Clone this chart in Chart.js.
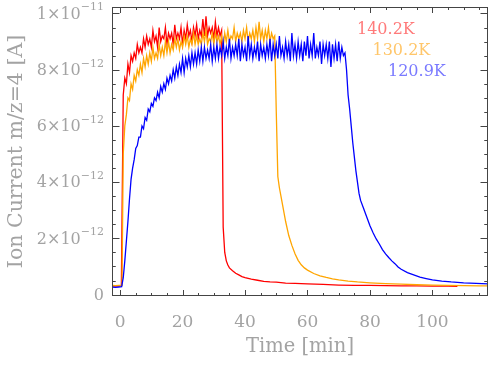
<!DOCTYPE html>
<html>
<head>
<meta charset="utf-8">
<script src="https://cdn.jsdelivr.net/npm/chart.js@4.4.1/dist/chart.umd.min.js"></script>
<style>
  html, body { margin: 0; padding: 0; background: #fff; }
  #chart { display: block; }
</style>
</head>
<body>
<canvas id="chart" width="504" height="366"></canvas>
<script>
// values are in units of 1e-12 A, time in minutes
const redTime = [-2.5, -1.5, -0.5, 0.4,
  1, 1.5, 2, 2.5, 3, 3.5, 4, 4.5, 5, 5.5, 6, 6.5, 7, 7.5, 8, 8.5, 9, 9.5, 10, 10.5,
  11, 11.5, 12, 12.5, 13, 13.5, 14, 14.5, 15, 15.5, 16, 16.5, 17, 17.5, 18, 18.5, 19, 19.5, 20, 20.5,
  21, 21.5, 22, 22.5, 23, 23.5, 24, 24.5, 25, 25.5, 26, 26.5, 27, 27.5, 28, 28.5, 29, 29.5, 30, 30.5,
  31, 31.5, 32, 32.5,
  33, 33.5, 34, 34.5, 35, 36, 37, 38, 39, 40, 42, 44, 46, 48, 50, 53, 56, 60, 65, 70, 75, 80, 85, 90,
  95, 100, 105, 108];
const redCurrent = [0.31, 0.30, 0.31, 0.31,
  7.1, 7.7, 7.5, 8.2, 7.9, 8.5, 8.3, 8.6, 8.4, 8.9,
  8.6, 8.8, 8.6, 9.1, 8.8, 9.2, 8.9, 9.1, 8.8, 9.4,
  9.0, 9.2, 8.8, 9.5, 9.0, 9.2, 9.1, 9.5, 8.9, 9.3,
  9.1, 9.3, 8.9, 9.6, 9.1, 9.3, 9.1, 9.5, 8.9, 9.4,
  9.1, 9.6, 9.2, 9.4, 9.0, 9.5, 9.2, 9.6, 9.1, 9.4,
  9.2, 9.8, 9.2, 9.9, 9.2, 9.5, 9.3, 9.5, 9.1, 9.7,
  9.2, 9.5, 9.2, 9.4,
  2.4, 1.5, 1.2, 1.05, 0.95, 0.85, 0.76, 0.70, 0.64, 0.60, 0.55, 0.51, 0.47, 0.45, 0.44, 0.41, 0.40, 0.38,
  0.36, 0.34, 0.33, 0.33, 0.32, 0.31, 0.31, 0.30, 0.30, 0.29];

const orangeTime = [-2.5, -1.5, -0.5, 0.6,
  1, 1.5, 2, 2.5, 3, 3.5, 4, 4.5, 5, 5.5, 6, 6.5, 7, 7.5, 8, 8.5, 9, 9.5, 10, 10.5,
  11, 11.5, 12, 12.5, 13, 13.5, 14, 14.5, 15, 15.5, 16, 16.5, 17, 17.5, 18, 18.5, 19, 19.5, 20, 20.5,
  21, 21.5, 22, 22.5, 23, 23.5, 24, 24.5, 25, 25.5, 26, 26.5, 27, 27.5, 28, 28.5, 29, 29.5, 30, 30.5,
  31, 31.5, 32, 32.5, 33, 33.5, 34, 34.5, 35, 35.5, 36, 36.5, 37, 37.5, 38, 38.5, 39, 39.5, 40, 40.5,
  41, 41.5, 42, 42.5, 43, 43.5, 44, 44.5, 45, 45.5, 46, 46.5, 47, 47.5, 48, 48.5, 49, 49.5,
  50, 50.5, 51, 51.5, 52, 52.5, 53, 54, 55, 56, 57, 58, 59, 60, 62, 64, 66, 68, 70, 73, 76, 80, 85, 90,
  95, 100, 105, 110, 115, 118];
const orangeCurrent = [0.33, 0.32, 0.33, 0.33,
  5.0, 6.0, 6.4, 7.0, 6.9, 7.5, 7.3, 7.8, 7.6, 8.0,
  7.8, 8.2, 7.9, 8.4, 8.1, 8.5, 8.2, 8.6, 8.3, 8.8,
  8.4, 8.6, 8.4, 8.9, 8.5, 8.8, 8.5, 9.0, 8.6, 9.0,
  8.6, 8.9, 8.7, 9.1, 8.8, 9.1, 8.7, 9.0, 8.8, 9.2,
  8.9, 9.2, 8.8, 9.1, 8.9, 9.3, 8.9, 9.2, 8.9, 9.1,
  8.9, 9.3, 9.0, 9.4, 8.9, 9.1, 9.0, 9.3, 8.9, 9.3,
  9.0, 9.2, 8.9, 9.2, 8.8, 9.3, 9.0, 9.4, 9.0, 9.2,
  9.1, 9.5, 9.0, 9.3, 9.1, 9.3, 9.0, 9.4, 9.1, 9.5,
  9.0, 9.3, 9.1, 9.4, 9.0, 9.5, 9.1, 9.7, 9.1, 9.4,
  9.0, 9.4, 9.1, 9.5, 9.0, 9.3, 9.1, 9.2,
  6.5, 4.2, 3.8, 3.5, 3.2, 2.9, 2.6, 2.1, 1.75, 1.45, 1.22, 1.06, 0.95, 0.87, 0.75, 0.67, 0.61, 0.56,
  0.52, 0.48, 0.45, 0.42, 0.39, 0.37, 0.35, 0.34, 0.33, 0.32, 0.31, 0.31];

const blueTime = [-2.5, -1.5, -0.5, 0.5, 1, 1.5,
  2, 2.5, 3, 3.5, 4, 4.5, 5, 5.5, 6, 6.5, 7, 7.5, 8, 8.5, 9, 9.5, 10, 10.5, 11, 11.5,
  12, 12.5, 13, 13.5, 14, 14.5, 15, 15.5, 16, 16.5, 17, 17.5, 18, 18.5, 19, 19.5, 20, 20.5, 21, 21.5,
  22, 22.5, 23, 23.5, 24, 24.5, 25, 25.5, 26, 26.5, 27, 27.5, 28, 28.5, 29, 29.5, 30, 30.5, 31, 31.5,
  32, 32.5, 33, 33.5, 34, 34.5, 35, 35.5, 36, 36.5, 37, 37.5, 38, 38.5, 39, 39.5, 40, 40.5, 41, 41.5,
  42, 42.5, 43, 43.5, 44, 44.5, 45, 45.5, 46, 46.5, 47, 47.5, 48, 48.5, 49, 49.5, 50, 50.5, 51, 51.5,
  52, 52.5, 53, 53.5, 54, 54.5, 55, 55.5, 56, 56.5, 57, 57.5, 58, 58.5, 59, 59.5, 60, 60.5, 61, 61.5,
  62, 62.5, 63, 63.5, 64, 64.5, 65, 65.5, 66, 66.5, 67, 67.5, 68, 68.5, 69, 69.5, 70, 70.5, 71, 71.5, 72,
  72.5, 73, 73.5, 74, 74.5, 75, 75.5, 76, 76.5, 77, 78, 79, 80, 81, 82, 83, 84, 85, 86, 87, 88, 89, 90,
  92, 94, 96, 98, 100, 103, 106, 110, 114, 118];
const blueCurrent = [0.27, 0.26, 0.27, 0.28, 0.6, 1.2,
  1.9, 2.6, 3.4, 4.1, 4.5, 4.8, 5.2, 5.3, 5.6, 5.6,
  6.0, 5.9, 6.3, 6.2, 6.6, 6.5, 6.8, 6.7, 7.0, 6.9,
  7.2, 7.0, 7.4, 7.2, 7.5, 7.3, 7.7, 7.5, 7.8, 7.6,
  8.0, 7.7, 8.1, 7.8, 8.2, 7.9, 8.4, 7.9, 8.4, 8.1,
  8.5, 8.1, 8.6, 8.2, 8.6, 8.2, 8.7, 8.3, 8.8, 8.3,
  8.8, 8.4, 8.7, 8.4, 8.9, 8.3, 8.8, 8.4, 8.9, 8.4,
  8.8, 8.5, 9.0, 8.4, 8.8, 8.5, 9.1, 8.4, 8.8, 8.5,
  8.9, 8.5, 9.1, 8.3, 8.9, 8.5, 8.8, 8.3, 9.2, 8.5,
  8.9, 8.4, 8.8, 8.5, 9.0, 8.3, 8.9, 8.5, 8.8, 8.4,
  8.9, 8.5, 9.1, 8.3, 8.9, 8.5, 8.9, 8.4, 9.2, 8.5,
  8.8, 8.4, 9.0, 8.5, 8.9, 8.3, 9.3, 8.5, 8.9, 8.4,
  9.0, 8.5, 8.9, 8.3, 9.0, 8.5, 9.2, 8.4, 8.9, 8.5,
  9.3, 8.4, 8.8, 8.5, 9.0, 8.2, 8.9, 8.5, 8.9, 8.4,
  9.0, 8.1, 8.9, 8.4, 8.9, 8.3, 9.0, 8.4, 8.8, 8.5, 8.6,
  8.0, 7.1, 6.6, 6.0, 5.4, 4.9, 4.4, 4.0, 3.6, 3.35, 3.05, 2.75, 2.45, 2.2, 1.98, 1.8, 1.6, 1.45,
  1.32, 1.2, 1.1, 0.98, 0.9, 0.78, 0.7, 0.62, 0.57, 0.52, 0.48, 0.45, 0.42, 0.40, 0.38];

const xTickValues = [0, 20, 40, 60, 80, 100];
const yTickValues = [0, 2, 4, 6, 8, 10];
const yTickMantissa = ['0', '2×10', '4×10', '6×10', '8×10', '1×10'];
const yTickExponent = ['', '−12', '−12', '−12', '−12', '−11'];

const seriesLabels = ['140.2K', '130.2K', '120.9K'];
const seriesColors = ['#ff0000', '#ffa500', '#0000ff'];
const labelColors = ['#ff7a7a', '#ffc66a', '#7a7aff'];

const FONT = "'DejaVu Serif', serif";
const TEXT_GREY = '#a3a3a3';

function points(times, values) {
  return times.map((t, i) => ({ x: t, y: values[i] }));
}

// IDL-style frame with inward ticks on all sides, y labels with raised exponents, temperature labels
const frameTicks = {
  id: 'frameTicks',
  afterDatasetsDraw(chart) {
    const { ctx, chartArea: a, scales: { x, y } } = chart;
    ctx.save();
    ctx.strokeStyle = '#444';
    ctx.lineWidth = 1;
    ctx.strokeRect(a.left + 0.5, a.top + 0.5, a.right - a.left - 1, a.bottom - a.top - 1);
    ctx.beginPath();
    for (let v = 0; v <= x.max; v += 5) {
      const px = Math.round(x.getPixelForValue(v)) + 0.5;
      const len = v % 20 === 0 ? 6 : 3;
      ctx.moveTo(px, a.bottom); ctx.lineTo(px, a.bottom - len);
      ctx.moveTo(px, a.top); ctx.lineTo(px, a.top + len);
    }
    for (let v = 0; v <= y.max; v += 0.5) {
      const py = Math.round(y.getPixelForValue(v)) + 0.5;
      const len = v % 2 === 0 ? 7.5 : 3.75;
      ctx.moveTo(a.left, py); ctx.lineTo(a.left + len, py);
      ctx.moveTo(a.right, py); ctx.lineTo(a.right - len, py);
    }
    ctx.stroke();

    // y tick labels
    ctx.fillStyle = TEXT_GREY;
    ctx.textBaseline = 'middle';
    ctx.textAlign = 'right';
    const right = a.left - 8;
    yTickValues.forEach((v, i) => {
      const py = y.getPixelForValue(v);
      ctx.font = '11px ' + FONT;
      const ew = yTickExponent[i] ? ctx.measureText(yTickExponent[i]).width : 0;
      if (ew) ctx.fillText(yTickExponent[i], right, py - 6);
      ctx.font = '16px ' + FONT;
      ctx.fillText(yTickMantissa[i], right - ew, py + 1);
    });

    ctx.font = '16px ' + FONT;
    ctx.textAlign = 'left';
    seriesLabels.forEach((txt, i) => {
      ctx.fillStyle = labelColors[i];
      ctx.fillText(txt, a.right - 131 + i * 15.5, a.top + 23 + i * 21);
    });
    ctx.restore();
  }
};

new Chart(document.getElementById('chart'), {
  type: 'line',
  data: {
    datasets: [
      { label: seriesLabels[2], data: points(blueTime, blueCurrent), borderColor: seriesColors[2] },
      { label: seriesLabels[1], data: points(orangeTime, orangeCurrent), borderColor: seriesColors[1] },
      { label: seriesLabels[0], data: points(redTime, redCurrent), borderColor: seriesColors[0] }
    ]
  },
  options: {
    responsive: false,
    animation: false,
    layout: { padding: { top: 7, right: 16, left: 0, bottom: 0 } },
    plugins: { legend: { display: false }, tooltip: { enabled: false } },
    elements: {
      point: { radius: 0 },
      line: { borderWidth: 1.3, tension: 0 }
    },
    scales: {
      x: {
        type: 'linear',
        min: -2.6,
        max: 117.8,
        afterBuildTicks: (s) => { s.ticks = xTickValues.map(v => ({ value: v })); },
        afterFit: (s) => { s.height = 70; },
        grid: { display: false, drawTicks: false },
        border: { display: false },
        ticks: {
          color: TEXT_GREY, autoSkip: false, maxRotation: 0, padding: 16,
          font: { family: FONT, size: 17 },
          callback: (v) => String(v)
        },
        title: {
          display: true, text: 'Time [min]', color: TEXT_GREY,
          font: { family: FONT, size: 19.5 }, padding: { top: 0, bottom: 7 }
        }
      },
      y: {
        type: 'linear',
        min: -0.05,
        max: 10.23,
        afterBuildTicks: (s) => { s.ticks = yTickValues.map(v => ({ value: v })); },
        afterFit: (s) => { s.width = 112; },
        grid: { display: false, drawTicks: false },
        border: { display: false },
        ticks: { display: false },
        title: {
          display: true, text: 'Ion Current m/z=4 [A]', color: TEXT_GREY,
          font: { family: FONT, size: 20.5 }, padding: { top: 4, bottom: 0 }
        }
      }
    }
  },
  plugins: [frameTicks]
});
</script>
</body>
</html>
